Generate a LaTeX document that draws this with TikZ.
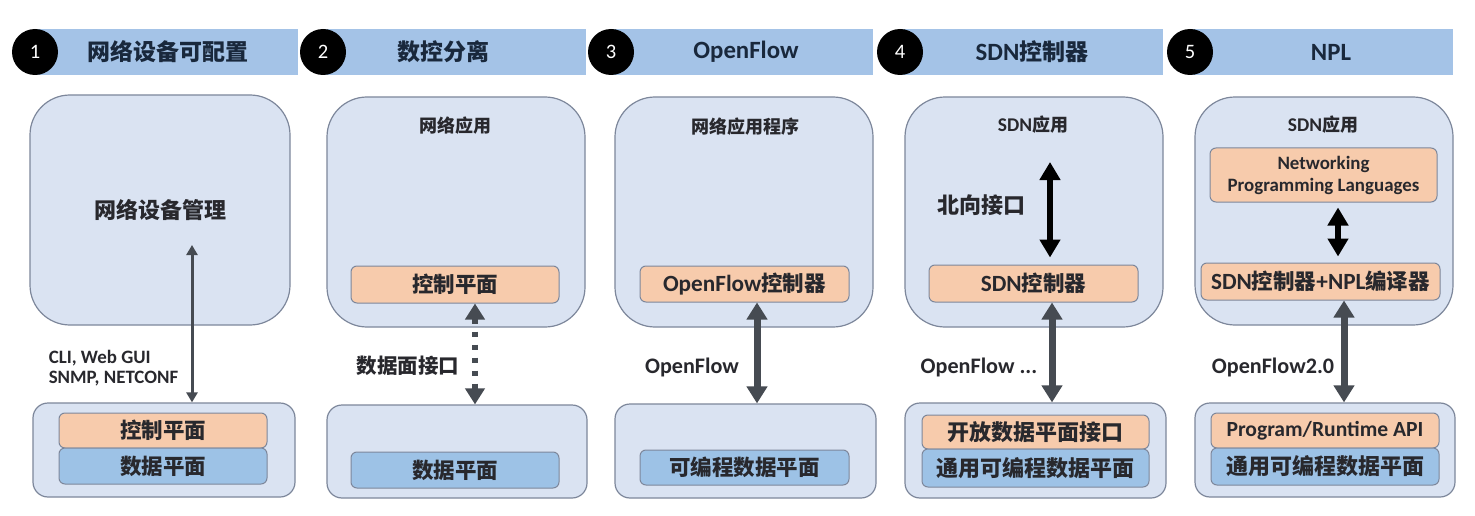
\documentclass[tikz,border=0pt]{standalone}
\usepackage{fontspec}
\setmainfont{Carlito}[Scale=1.08]
\newfontfamily\cjk{Noto Sans CJK SC}
\usetikzlibrary{arrows.meta}
\definecolor{hdr}{RGB}{164,195,231}
\definecolor{panel}{RGB}{218,227,242}
\definecolor{pborder}{RGB}{125,135,155}
\definecolor{org}{RGB}{247,203,172}
\definecolor{blu}{RGB}{157,194,230}
\definecolor{txt}{RGB}{40,40,45}
\definecolor{ttl}{RGB}{25,40,60}
\definecolor{arr}{RGB}{70,75,82}
\newcommand{\C}[1]{{\cjk #1}}
\newcommand{\fs}[1]{\bfseries\fontsize{#1}{#1}\selectfont}
\begin{document}
\begin{tikzpicture}[x=1pt,y=-1pt,
  hbar/.style={fill=hdr, draw=none, inner sep=0pt, minimum height=46pt, anchor=west},
  num/.style={circle, fill=black, minimum size=46pt, inner sep=0pt, text=white, font=\fontsize{19}{19}\selectfont},
  ttlt/.style={text=ttl, font=\fs{23}},
  upper/.style={draw=pborder, fill=panel, line width=1.2pt, rounded corners=40pt, inner sep=0pt, text=txt, font=\fs{22}},
  lower/.style={draw=pborder, fill=panel, line width=1.2pt, rounded corners=15pt, inner sep=0pt},
  ctl/.style={draw=pborder, fill=org, line width=1pt, rounded corners=6pt, inner sep=0pt, text=txt, font=\fs{21.5}},
  dat/.style={draw=pborder, fill=blu, line width=1pt, rounded corners=6pt, inner sep=0pt, text=txt, font=\fs{21.5}},
  apptxt/.style={text=txt, font=\fs{18}},
  lbl/.style={text=txt, font=\fs{20.5}},
  thinarr/.style={draw=arr, line width=3pt, {Triangle[width=11pt,length=10pt]}-{Triangle[width=11pt,length=10pt]}},
  dotarr/.style={draw=arr, line width=6pt, dash pattern=on 5pt off 8pt, {Triangle[width=19pt,length=16pt]}-{Triangle[width=19pt,length=16pt]}},
  grayarr/.style={draw=arr, line width=7pt, {Triangle[width=20pt,length=17pt]}-{Triangle[width=20pt,length=17pt]}},
  blackarr/.style={draw=black, line width=6.5pt, {Triangle[width=20pt,length=18pt]}-{Triangle[width=20pt,length=18pt]}}
]
\useasboundingbox[fill=white] (0,0) rectangle (1475,516);

% ---------- headers ----------
\node[hbar, minimum width=263pt] (bar1) at (35,52) {};
\node[num] (n1) at (35,52) {1};
\node[ttlt] (t1) at (168,52) {\C{网络设备可配置}};
\node[hbar, minimum width=263pt] (bar2) at (323,52) {};
\node[num] (n2) at (323,52) {2};
\node[ttlt] (t2) at (443,52) {\C{数控分离}};
\node[hbar, minimum width=262pt] (bar3) at (611,52) {};
\node[num] (n3) at (611,52) {3};
\node[ttlt] (t3) at (746,52) {OpenFlow};
\node[hbar, minimum width=263pt] (bar4) at (900,52) {};
\node[num] (n4) at (900,52) {4};
\node[ttlt] (t4) at (1032,52) {SDN\C{控制器}};
\node[hbar, minimum width=263pt] (bar5) at (1190,52) {};
\node[num] (n5) at (1190,52) {5};
\node[ttlt] (t5) at (1331,52) {NPL};

% ---------- panel 1 ----------
\node[upper, minimum width=260pt, minimum height=230pt] (up1) at (160,210) {\C{网络设备管理}};
\node[lower, minimum width=262pt, minimum height=94pt] (lo1) at (164,450) {};
\node[ctl, minimum width=208pt, minimum height=35pt] (c1) at (163,430.5) {\C{控制平面}};
\node[dat, minimum width=208pt, minimum height=36pt] (d1) at (163,466) {\C{数据平面}};
\coordinate (a1s) at (192,245);
\draw[thinarr] (a1s) -- (lo1.north -| a1s);
\node[lbl, align=left, anchor=west, font=\bfseries\fontsize{17.5}{19.5}\selectfont] (l1) at (45,368) {CLI, Web GUI\\SNMP, NETCONF};

% ---------- panel 2 ----------
\node[upper, minimum width=258pt, minimum height=230pt] (up2) at (456,212) {};
\node[apptxt] (app2) at (455,126) {\C{网络应用}};
\node[ctl, minimum width=208pt, minimum height=37pt] (c2) at (455,284.5) {\C{控制平面}};
\node[lower, minimum width=260pt, minimum height=93pt] (lo2) at (457,451.5) {};
\node[dat, minimum width=208pt, minimum height=36pt] (d2) at (455,470) {\C{数据平面}};
\coordinate (x2) at (475,0);
\draw[dotarr] (c2.south -| x2) -- (lo2.north -| x2);
\node[lbl] (l2) at (408,366) {\C{数据面接口}};

% ---------- panel 3 ----------
\node[upper, minimum width=258pt, minimum height=230pt] (up3) at (744,212) {};
\node[apptxt] (app3) at (745,127) {\C{网络应用程序}};
\node[ctl, minimum width=209pt, minimum height=36pt] (c3) at (744.5,284) {OpenFlow\C{控制器}};
\node[lower, minimum width=261pt, minimum height=94pt] (lo3) at (745.5,451) {};
\node[dat, minimum width=209pt, minimum height=35pt] (d3) at (744.5,467.5) {\C{可编程数据平面}};
\coordinate (x3) at (757,0);
\draw[grayarr] (c3.south -| x3) -- (lo3.north -| x3);
\node[lbl] (l3) at (692,367) {OpenFlow};

% ---------- panel 4 ----------
\node[upper, minimum width=258pt, minimum height=230pt] (up4) at (1034,212) {};
\node[apptxt] (app4) at (1033,125) {SDN\C{应用}};
\node[ctl, minimum width=209pt, minimum height=37pt] (c4) at (1033.5,283.5) {SDN\C{控制器}};
\coordinate (a4s) at (1050,162);
\draw[blackarr, shorten >=7pt] (a4s) -- (c4.north -| a4s);
\node[lbl, font=\fs{22}] (l4a) at (981,205) {\C{北向接口}};
\node[lower, minimum width=261pt, minimum height=95pt] (lo4) at (1035.5,450.5) {};
\node[ctl, minimum width=227pt, minimum height=34pt, font=\fs{22}] (o4) at (1035.5,432) {\C{开放数据平面接口}};
\node[dat, minimum width=227pt, minimum height=38pt, font=\fs{22}] (d4) at (1035.5,468) {\C{通用可编程数据平面}};
\coordinate (x4) at (1052,0);
\draw[grayarr] (c4.south -| x4) -- (lo4.north -| x4);
\node[lbl] (l4b) at (979,367) {OpenFlow ...};

% ---------- panel 5 ----------
\node[upper, minimum width=258pt, minimum height=228pt] (up5) at (1324,211) {};
\node[apptxt] (app5) at (1323,125) {SDN\C{应用}};
\node[ctl, minimum width=227pt, minimum height=54pt, align=center, font=\bfseries\fontsize{17.5}{22}\selectfont] (npl5) at (1323.5,175) {Networking\\Programming Languages};
\node[ctl, minimum width=239pt, minimum height=37pt] (c5) at (1320.5,281.5) {SDN\C{控制器}+NPL\C{编译器}};
\coordinate (x5a) at (1338,0);
\draw[blackarr, shorten <=5pt, shorten >=6pt] (npl5.south -| x5a) -- (c5.north -| x5a);
\node[lower, minimum width=260pt, minimum height=94pt] (lo5) at (1325,450) {};
\node[ctl, minimum width=228pt, minimum height=35pt, font=\fs{20}] (api5) at (1325,430.5) {Program/Runtime API};
\node[dat, minimum width=228pt, minimum height=37pt, font=\fs{22}] (d5) at (1325,466.5) {\C{通用可编程数据平面}};
\coordinate (x5) at (1344,0);
\draw[grayarr] (c5.south -| x5) -- (lo5.north -| x5);
\node[lbl] (l5) at (1273,367) {OpenFlow2.0};
\end{tikzpicture}
\end{document}
